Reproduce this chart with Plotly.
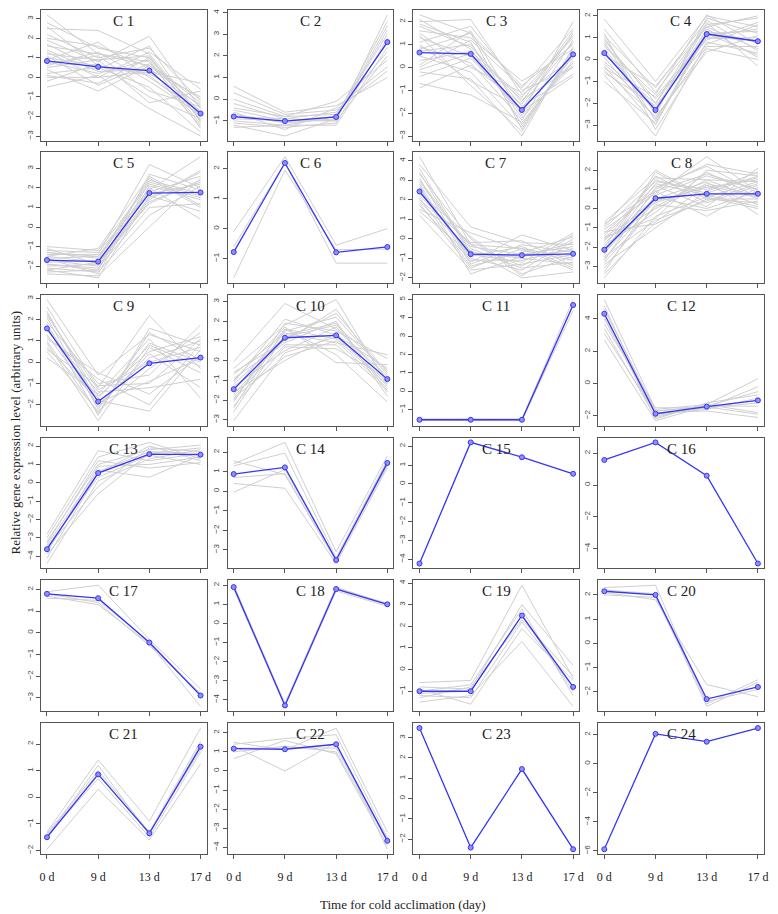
import plotly.graph_objects as go

days = ["0 d", "9 d", "13 d", "17 d"]
titles = ["C %d" % i for i in range(1, 25)]

# blue centroid line of each cluster
c1_mean = [0.84, 0.54, 0.35, -1.85]
c2_mean = [-0.80, -1.01, -0.82, 2.64]
c3_mean = [0.65, 0.59, -1.86, 0.57]
c4_mean = [0.30, -2.31, 1.17, 0.84]
c5_mean = [-1.69, -1.77, 1.74, 1.77]
c6_mean = [-0.78, 2.19, -0.79, -0.61]
c7_mean = [2.42, -0.79, -0.84, -0.77]
c8_mean = [-2.14, 0.54, 0.77, 0.77]
c9_mean = [1.59, -1.85, -0.05, 0.22]
c10_mean = [-1.45, 1.16, 1.28, -0.94]
c11_mean = [-1.55, -1.55, -1.55, 4.70]
c12_mean = [4.32, -1.87, -1.43, -1.04]
c13_mean = [-3.62, 0.53, 1.56, 1.53]
c14_mean = [0.88, 1.22, -3.52, 1.45]
c15_mean = [-4.23, 2.21, 1.42, 0.54]
c16_mean = [1.58, 2.69, 0.59, -4.95]
c17_mean = [1.80, 1.60, -0.45, -2.90]
c18_mean = [1.90, -4.30, 1.80, 1.00]
c19_mean = [-1.00, -1.00, 2.50, -0.80]
c20_mean = [2.15, 2.00, -2.30, -1.80]
c21_mean = [-1.50, 0.86, -1.35, 1.90]
c22_mean = [1.17, 1.14, 1.40, -3.66]
c23_mean = [3.47, -2.42, 1.45, -2.50]
c24_mean = [-5.88, 2.06, 1.52, 2.46]

# grey member-gene profiles
c1_genes = [[3.2, 1.2, 0.6, -1.5], [2.8, 1.5, 1.0, -1.8], [2.5, 2.4, 1.2, -2.0], [2.2, 1.0, 1.5, -1.2],
            [1.9, 0.8, 2.1, -1.6], [1.6, 1.2, 0.8, -2.4], [1.4, 0.3, 0.4, -1.0], [1.2, 0.9, 1.1, -2.2],
            [1.0, 0.6, 0.2, -1.4], [0.8, 0.2, 0.9, -2.6], [0.6, 1.3, -0.2, -1.9], [0.4, -0.7, 0.6, -1.1],
            [0.2, 0.5, -0.5, -2.8], [0.0, 0.0, 0.3, -0.3], [-0.2, 0.7, -1.0, -2.1], [-0.5, 0.1, -1.6, -3.0],
            [0.9, 1.8, 0.0, -1.7], [1.7, 0.4, 1.6, -2.3], [0.5, 0.9, -1.3, -0.7], [1.1, -0.4, 0.7, -1.3],
            [2.0, 1.6, 0.5, -2.5], [1.3, 0.0, 1.3, -0.6], [0.7, 1.1, -0.7, -1.5], [2.6, 0.6, 0.1, -2.0],
            [0.1, -0.3, 1.0, -2.2]]
c2_genes = [[0.6, -0.6, -0.3, 1.0], [0.3, -0.7, -0.5, 1.3], [0.0, -0.8, -0.1, 1.8], [-0.2, -0.9, -0.6, 2.2],
            [-0.4, -0.8, -0.7, 2.6], [-0.5, -1.0, -0.8, 3.0], [-0.7, -1.1, -0.9, 3.4], [-0.9, -1.0, -1.0, 3.9],
            [-1.0, -1.2, -0.8, 3.6], [-1.1, -1.3, -1.1, 2.8], [-1.2, -1.7, -0.9, 3.2], [-1.3, -1.2, -1.2, 2.4],
            [-0.6, -1.4, -0.4, 1.5], [-0.8, -0.9, -1.0, 2.0]]
c3_genes = [[2.3, 1.5, -0.8, 1.0], [2.0, 2.1, -1.2, 0.4], [1.8, 0.9, -1.5, 1.6], [1.6, 1.3, -0.6, 0.8],
            [1.3, 0.5, -2.0, 2.0], [1.1, 1.8, -1.0, 0.0], [0.9, 0.2, -2.3, 1.2], [0.7, 1.0, -1.7, -0.3],
            [0.5, -0.2, -2.6, 0.6], [0.3, 0.7, -1.3, 1.4], [0.1, 1.6, -2.1, 0.2], [-0.2, -0.5, -3.0, 0.9],
            [-0.4, 0.4, -1.9, -0.4], [-0.7, -1.2, -2.4, 0.3], [-0.9, 0.1, -1.6, 1.1], [1.4, -0.8, -2.8, 0.7],
            [0.0, 1.2, -0.9, 1.7], [2.1, 0.8, -2.2, 0.1], [1.9, 1.1, -2.5, 0.5], [1.5, 0.0, -1.1, 1.3],
            [0.8, 1.5, -2.7, 0.8], [-0.1, 0.6, -1.4, 0.0], [1.0, -0.6, -1.8, 1.5]]
c4_genes = [[1.85, -1.0, 2.0, 1.5], [1.4, -1.5, 1.5, 2.0], [1.1, -1.3, 1.8, 0.4], [0.9, -2.0, 1.2, 1.3],
            [0.7, -1.8, 0.9, 1.7], [0.5, -2.4, 1.4, 0.1], [0.3, -2.2, 1.0, 1.0], [0.1, -2.7, 0.6, 0.6],
            [-0.1, -2.0, 1.7, -0.3], [-0.3, -3.0, 1.3, 0.8], [-0.5, -2.6, 0.35, 1.1], [-0.7, -3.5, 0.8, 0.3],
            [-1.0, -2.9, 1.1, 1.4], [0.6, -1.6, 2.05, 0.7], [-0.2, -2.3, 1.6, 1.9], [1.2, -3.2, 0.5, 0.0],
            [1.0, -2.5, 1.9, 1.2], [0.2, -1.2, 1.5, 0.5], [-0.6, -2.1, 0.7, 1.6], [0.8, -2.8, 1.2, 0.2],
            [-0.4, -1.7, 1.0, 0.9]]
c5_genes = [[-1.0, -1.2, 2.2, 1.5], [-1.2, -1.3, 1.8, 2.6], [-1.3, -1.6, 2.5, 1.0], [-1.4, -1.4, 3.2, 2.0],
            [-1.5, -1.8, 1.5, 2.8], [-1.6, -1.5, 2.0, 0.4], [-1.7, -2.0, 1.3, 2.3], [-1.8, -1.7, 2.4, 1.7],
            [-1.9, -2.1, 1.0, 1.2], [-2.0, -1.9, 1.9, 3.6], [-2.1, -2.3, 0.6, 2.1], [-2.2, -2.6, 1.6, 0.8],
            [-2.3, -2.2, 2.7, 1.9], [-2.4, -2.5, 0.0, 2.5], [-1.6, -2.4, 2.1, 1.4], [-1.1, -1.9, 1.4, 2.9],
            [-1.3, -1.5, 1.7, 2.2], [-1.9, -2.2, 2.3, 1.6], [-2.2, -1.8, 1.2, 2.4], [-1.5, -1.1, 2.6, 1.1]]
c6_genes = [[-0.1, 2.4, -0.55, 0.0], [-1.64, 1.95, -0.7, -0.68], [-0.6, 2.2, -1.15, -1.15]]
c7_genes = [[4.2, -0.3, -0.5, -1.0], [3.8, 0.6, -0.2, -0.3], [3.4, -0.8, -1.2, 0.3], [3.1, -1.2, 0.2, -0.6],
            [2.9, -0.5, -1.5, -1.2], [2.7, -1.8, -0.9, -0.2], [2.5, -0.9, -0.4, -1.5], [2.3, 0.1, -1.8, -0.9],
            [2.1, -1.4, -0.7, 0.1], [1.9, -0.6, -2.0, -1.7], [1.7, -1.1, -1.1, -0.5], [1.5, 0.3, -0.6, -1.1],
            [1.2, -1.6, -1.3, -0.8], [2.0, -0.2, -0.1, -1.4], [2.6, -1.0, -1.6, 0.0], [3.0, -0.4, -0.8, -0.4],
            [3.6, -0.7, -1.0, -1.3], [2.8, -1.3, -0.3, -0.7], [2.2, -0.3, -1.4, 0.2], [1.8, -1.5, -0.5, -1.6],
            [3.3, 0.0, -1.9, -0.1], [1.4, -0.8, -0.9, -0.6]]
c8_genes = [[-0.7, 1.6, 1.5, 0.5], [-0.9, 2.0, 0.6, 1.4], [-1.1, 0.8, 2.7, 0.9], [-1.3, 1.2, 0.1, 2.1],
            [-1.5, 0.3, 1.2, 0.2], [-1.7, 1.5, 0.8, 1.7], [-1.9, -0.2, 1.9, 0.6], [-2.1, 0.9, -0.4, 1.1],
            [-2.3, 0.5, 1.4, -0.3], [-2.5, -0.6, 0.4, 1.3], [-2.7, 1.1, 2.2, 0.8], [-2.9, -1.0, 0.9, 1.9],
            [-3.1, 0.2, -0.1, 0.4], [-3.3, 0.7, 1.7, 1.0], [-3.6, -0.4, 0.6, 0.0], [-1.0, 1.4, 1.0, 1.6],
            [-1.6, 0.0, 1.3, 0.7], [-2.0, 1.7, 0.3, 1.2], [-2.6, 0.4, 1.1, 1.5], [-1.2, -0.8, 0.5, 0.3],
            [-1.4, 1.0, 2.3, 1.8], [-2.2, 1.3, 0.7, 0.1], [-2.8, 0.1, 1.5, 1.4], [-1.8, 0.6, 0.0, 0.9],
            [-3.4, -0.7, 1.2, 0.6], [-0.8, 0.9, 1.8, 1.0], [-2.4, 1.9, 0.5, 0.5], [-1.5, -0.5, 2.0, 1.7]]
c9_genes = [[2.95, -0.6, 1.3, 0.5], [2.6, -1.2, 2.2, -0.3], [2.3, -1.6, 0.5, 1.2], [2.1, -2.2, 0.9, 0.0],
            [1.9, -1.0, -0.6, 1.75], [1.7, -2.5, 1.6, 0.8], [1.5, -1.4, -1.2, -0.8], [1.3, -2.0, 0.2, 1.0],
            [1.1, -0.5, -1.5, 0.3], [0.9, -2.75, 0.7, -0.5], [0.7, -1.8, -2.3, 0.6], [0.5, -2.3, -0.3, 1.4],
            [0.2, -1.5, 1.1, -1.7], [1.2, -0.8, -2.0, 0.9], [1.8, -2.1, 0.4, -1.2], [2.4, -1.9, -0.9, 0.2],
            [2.2, -1.3, 0.0, 0.7], [1.0, -2.4, 1.4, 0.1], [0.6, -1.1, -1.0, 1.1], [1.6, -1.7, 0.8, -0.2]]
c10_genes = [[-0.05, 2.9, 1.6, -0.8], [-0.4, 1.8, 3.1, -1.2], [-0.7, 1.4, 0.9, 0.3], [-0.9, 0.9, 2.0, -1.6],
             [-1.1, 2.1, 1.3, -0.4], [-1.3, 0.5, 1.7, -1.0], [-1.5, 1.6, 0.3, -2.1], [-1.7, 1.1, 2.4, -0.6],
             [-1.9, 0.2, 1.0, -1.4], [-2.1, 1.9, 1.5, 0.1], [-2.3, 0.7, 0.6, -0.9], [-2.6, 1.3, 1.9, -1.8],
             [-3.05, 0.4, 1.2, -1.1], [-1.0, 1.7, -0.1, -0.2], [-1.6, 0.0, 1.4, -1.3], [-2.0, 1.5, 2.2, -0.7],
             [-1.2, 1.2, 1.8, -0.5], [-1.8, 0.8, 0.8, -1.5], [-0.6, 1.0, 2.6, -1.0], [-2.4, 1.6, 1.1, -1.2]]
c11_genes = [[-1.5, -1.5, -1.5, 5.0], [-1.58, -1.6, -1.6, 4.4], [-1.55, -1.52, -1.55, 4.75]]
c12_genes = [[5.2, -1.6, -1.3, 0.3], [4.8, -2.0, -1.5, -0.2], [4.6, -1.7, -1.4, -0.5], [4.3, -2.2, -1.2, -0.7],
             [4.0, -1.9, -1.6, -0.9], [3.7, -1.5, -1.5, -1.2], [3.4, -2.1, -1.3, -1.8], [3.1, -1.8, -1.7, -2.1],
             [2.7, -2.3, -1.4, -1.4], [4.1, -1.7, -1.45, -1.9]]
c13_genes = [[-2.8, 1.75, 1.2, 1.6], [-3.0, 1.4, 2.2, 1.3], [-3.2, 1.0, 1.8, 2.05], [-3.4, 0.7, 0.3, 1.5],
             [-3.5, 0.3, 1.5, 1.0], [-3.6, -0.2, 1.9, 1.7], [-3.8, 0.9, 1.0, 1.4], [-3.9, -0.6, 1.6, 1.9],
             [-4.1, 0.5, 2.0, 1.2], [-4.4, 0.1, 1.3, 1.8], [-3.3, 1.2, 0.8, 1.1], [-3.7, 0.6, 1.7, 1.6]]
c14_genes = [[1.55, 0.85, -3.6, 1.5], [1.4, 2.5, -3.1, 1.8], [1.3, 1.95, -3.4, 1.6], [0.4, 0.15, -3.7, 1.2],
             [-0.05, 1.1, -3.5, 1.3], [0.7, 0.9, -3.55, 1.35]]
c15_genes = []
c16_genes = []
c17_genes = [[1.9, 2.2, -0.3, -2.6], [1.7, 1.3, -0.5, -3.4], [1.8, 1.4, -0.6, -2.8], [1.6, 1.5, -0.4, -2.9]]
c18_genes = [[2.0, -4.2, 1.9, 1.0], [1.8, -4.35, 1.7, 0.9], [1.9, -4.3, 1.85, 1.05]]
c19_genes = [[-0.6, -0.5, 3.9, -0.4], [-0.8, -0.9, 3.0, 0.2], [-1.0, -0.7, 2.8, -1.2], [-1.2, -1.3, 2.2, -0.8],
             [-1.5, -1.2, 1.3, -1.7], [-0.9, -1.6, 1.9, -0.5], [-1.1, -1.0, 2.5, -1.0], [-1.3, -0.8, 2.3, -0.3]]
c20_genes = [[2.3, 2.4, -2.5, -1.5], [2.1, 1.8, -1.7, -2.2], [2.0, 1.9, -2.4, -1.9], [2.2, 2.05, -2.6, -1.6]]
c21_genes = [[-1.3, 1.4, -0.9, 2.6], [-1.35, 1.0, -1.3, 2.1], [-1.45, 0.7, -1.5, 1.7], [-1.95, 0.3, -1.6, 1.25],
             [-1.5, 1.2, -1.4, 2.0], [-1.4, 0.9, -1.35, 1.8]]
c22_genes = [[1.5, 1.1, 2.25, -3.2], [1.4, 1.7, 1.9, -3.5], [0.65, 1.6, 0.9, -3.9], [1.3, 0.0, 1.5, -4.1],
             [1.0, 1.3, 1.0, -3.7], [1.2, 1.2, 1.2, -3.6]]
c23_genes = []
c24_genes = []

# y tick step per panel (R pretty())
tick_step = [1, 1, 1, 1, 1, 1, 1, 1, 1, 1, 1, 2, 1, 1, 1, 2, 1, 1, 1, 1, 1, 1, 1, 2]

means = [c1_mean, c2_mean, c3_mean, c4_mean, c5_mean, c6_mean, c7_mean, c8_mean, c9_mean, c10_mean,
         c11_mean, c12_mean, c13_mean, c14_mean, c15_mean, c16_mean, c17_mean, c18_mean, c19_mean,
         c20_mean, c21_mean, c22_mean, c23_mean, c24_mean]
genes = [c1_genes, c2_genes, c3_genes, c4_genes, c5_genes, c6_genes, c7_genes, c8_genes, c9_genes,
         c10_genes, c11_genes, c12_genes, c13_genes, c14_genes, c15_genes, c16_genes, c17_genes,
         c18_genes, c19_genes, c20_genes, c21_genes, c22_genes, c23_genes, c24_genes]

# page has an 8px body margin, so the figure is a bit smaller and positions are page-8
OFF = 8
W, H = 770, 906
col_left = [40, 228, 415, 601]
panel_w = 167
row_top = [9, 151, 294, 437, 580, 723]
panel_h = 131

fig = go.Figure()
layout = {}
annotations = []
xpos = [0, 1, 2, 3]

for k in range(24):
    r, c = divmod(k, 4)
    n = k + 1
    xa = "x" if n == 1 else "x%d" % n
    ya = "y" if n == 1 else "y%d" % n
    for g in genes[k]:
        fig.add_trace(go.Scatter(x=xpos, y=g, mode="lines", xaxis=xa, yaxis=ya,
                                 line=dict(color="#cfcfcf", width=1), hoverinfo="skip",
                                 showlegend=False))
    fig.add_trace(go.Scatter(x=xpos, y=means[k], mode="lines+markers", xaxis=xa, yaxis=ya,
                             line=dict(color="#3535f5", width=1.3),
                             marker=dict(symbol="circle", size=5, color="#9090f8",
                                         line=dict(color="#3535f5", width=1)),
                             showlegend=False))
    allv = list(means[k]) + [v for g in genes[k] for v in g]
    lo, hi = min(allv), max(allv)
    pad = (hi - lo) * 0.04
    x0 = (col_left[c] - OFF) / W
    x1 = (col_left[c] - OFF + panel_w) / W
    y1 = 1 - (row_top[r] - OFF) / H
    y0 = 1 - (row_top[r] - OFF + panel_h) / H
    key = "" if n == 1 else str(n)
    layout["xaxis" + key] = dict(
        domain=[x0, x1], anchor=ya, range=[-0.12, 3.12],
        tickmode="array", tickvals=xpos, ticktext=days,
        showticklabels=(r == 5), ticks="outside", ticklen=4, tickcolor="#555",
        ticklabelstandoff=8,
        showline=True, mirror=True, linecolor="#555", linewidth=1,
        showgrid=False, zeroline=False,
        tickfont=dict(family="Liberation Serif", size=12, color="#222"))
    layout["yaxis" + key] = dict(
        domain=[y0, y1], anchor=xa, range=[lo - pad, hi + pad],
        dtick=tick_step[k], tick0=0, tickangle=-90,
        ticks="outside", ticklen=4, tickcolor="#555",
        showline=True, mirror=True, linecolor="#555", linewidth=1,
        showgrid=False, zeroline=False,
        tickfont=dict(family="Liberation Sans", size=8, color="#444"))
    annotations.append(dict(text=titles[k], x=0.5, y=1, xref=xa + " domain", yref=ya + " domain",
                            xanchor="center", yanchor="top", yshift=-1, showarrow=False,
                            font=dict(family="Liberation Serif", size=15, color="#222")))

annotations.append(dict(text="Relative gene expression level (arbitrary units)",
                        x=(15 - OFF) / W, y=1 - (432 - OFF) / H,
                        xref="paper", yref="paper", textangle=-90, showarrow=False,
                        xanchor="center", yanchor="middle",
                        font=dict(family="Liberation Serif", size=13, color="#222")))
annotations.append(dict(text="Time for cold acclimation (day)",
                        x=(405 - OFF) / W, y=1 - (904 - OFF) / H,
                        xref="paper", yref="paper", showarrow=False,
                        xanchor="center", yanchor="middle",
                        font=dict(family="Liberation Serif", size=13, color="#222")))

fig.update_layout(width=W, height=H, margin=dict(l=0, r=0, t=0, b=0),
                  paper_bgcolor="white", plot_bgcolor="white",
                  annotations=annotations, **layout)
fig.write_html("out.html")
